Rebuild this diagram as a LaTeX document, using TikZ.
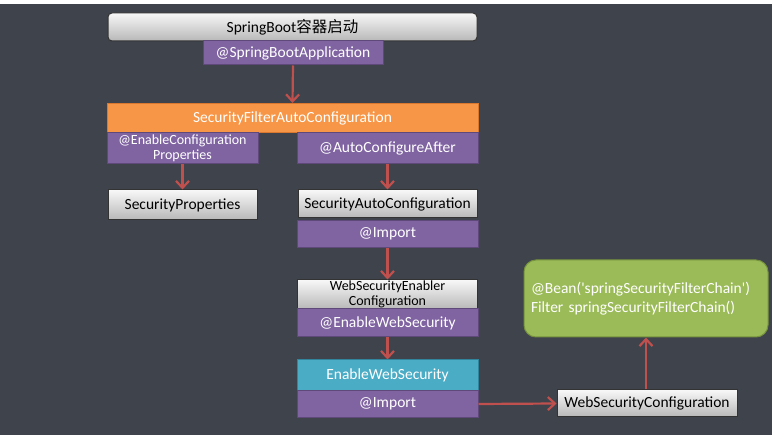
\documentclass[tikz,border=0pt]{standalone}
\usepackage{fontspec}
\setmainfont{Carlito}[Ligatures=TeXOff]
\newfontfamily\cjk{Noto Sans CJK SC}
\usetikzlibrary{arrows.meta}
\definecolor{bgc}{HTML}{3F434C}
\definecolor{purp}{HTML}{8064A2}
\definecolor{purpd}{HTML}{5F497A}
\definecolor{orng}{HTML}{F79646}
\definecolor{orngd}{HTML}{D9782E}
\definecolor{teal}{HTML}{4BACC6}
\definecolor{teald}{HTML}{31859C}
\definecolor{grn}{HTML}{9BBB59}
\definecolor{grnd}{HTML}{76923C}
\definecolor{redarr}{HTML}{C0504D}
\tikzset{
  base/.style={rectangle, inner sep=0pt, anchor=center, font=\fontsize{15.5}{17}\selectfont, line width=1pt},
  graybox/.style={base, draw=black!80, top color=white!97!black, bottom color=white!72!black, text=black},
  purpbox/.style={base, fill=purp, draw=purpd, text=white},
  orngbox/.style={base, fill=orng, draw=orngd, text=white},
  tealbox/.style={base, fill=teal, draw=teald, text=white},
  grnbox/.style={base, fill=grn, draw=grnd, text=white, rounded corners=12pt, align=left, font=\fontsize{15.5}{19}\selectfont},
  twoline/.style={align=center, font=\fontsize{14}{15}\selectfont},
  arr/.style={draw=redarr, line width=2.2pt, -{Straight Barb[length=7pt,width=13pt,line width=2.2pt]}}
}
\begin{document}
\begin{tikzpicture}[x=1pt,y=-1pt]
\fill[bgc] (0,0) rectangle (772,435);
\fill[white] (0,0) rectangle (772,4);
\useasboundingbox (0,0) rectangle (772,435);

\node[graybox, rounded corners=4pt, minimum width=369, minimum height=28] (boot) at (292.5,27) {SpringBoot{\cjk 容器启动}};
\node[purpbox, minimum width=180, minimum height=24] (sba) at (293,53) {@SpringBootApplication};

\node[orngbox, minimum width=371, minimum height=29] (sfac) at (292.5,118) {SecurityFilterAutoConfiguration};
\node[purpbox, twoline, minimum width=151, minimum height=31] (ecp) at (182.5,148) {@EnableConfiguration\\Properties};
\node[purpbox, minimum width=181, minimum height=31] (aca) at (387.5,148) {@AutoConfigureAfter};

\node[graybox, minimum width=149, minimum height=30] (sp) at (182.5,205) {SecurityProperties};
\node[graybox, minimum width=179, minimum height=28] (sac) at (387.5,204) {SecurityAutoConfiguration};
\node[purpbox, minimum width=181, minimum height=27] (imp1) at (387.5,234) {@Import};

\node[graybox, twoline, minimum width=180, minimum height=29] (wsec) at (387.5,294.5) {WebSecurityEnabler\\Configuration};
\node[purpbox, minimum width=181, minimum height=28] (ews) at (387.5,323) {@EnableWebSecurity};

\node[tealbox, minimum width=181, minimum height=31] (ewsb) at (387.5,375.5) {EnableWebSecurity};
\node[purpbox, minimum width=181, minimum height=27] (imp2) at (387.5,404) {@Import};

\node[graybox, minimum width=180, minimum height=27] (wsc) at (647,403.5) {WebSecurityConfiguration};
\node[grnbox, minimum width=244, minimum height=77, text width=230] (bean) at (646,298.5) {@Bean('springSecurityFilterChain')\\Filter springSecurityFilterChain()};

\draw[arr] (sba.south) -- (sfac.north);
\draw[arr] (ecp.south) -- (sp.north);
\draw[arr] (aca.south) -- (sac.north);
\draw[arr] (imp1.south) -- (wsec.north);
\draw[arr] (ews.south) -- (ewsb.north);
\draw[arr] (imp2.east) -- (wsc.west);
\draw[arr] (wsc.north -| bean.south) -- (bean.south);
\end{tikzpicture}
\end{document}
